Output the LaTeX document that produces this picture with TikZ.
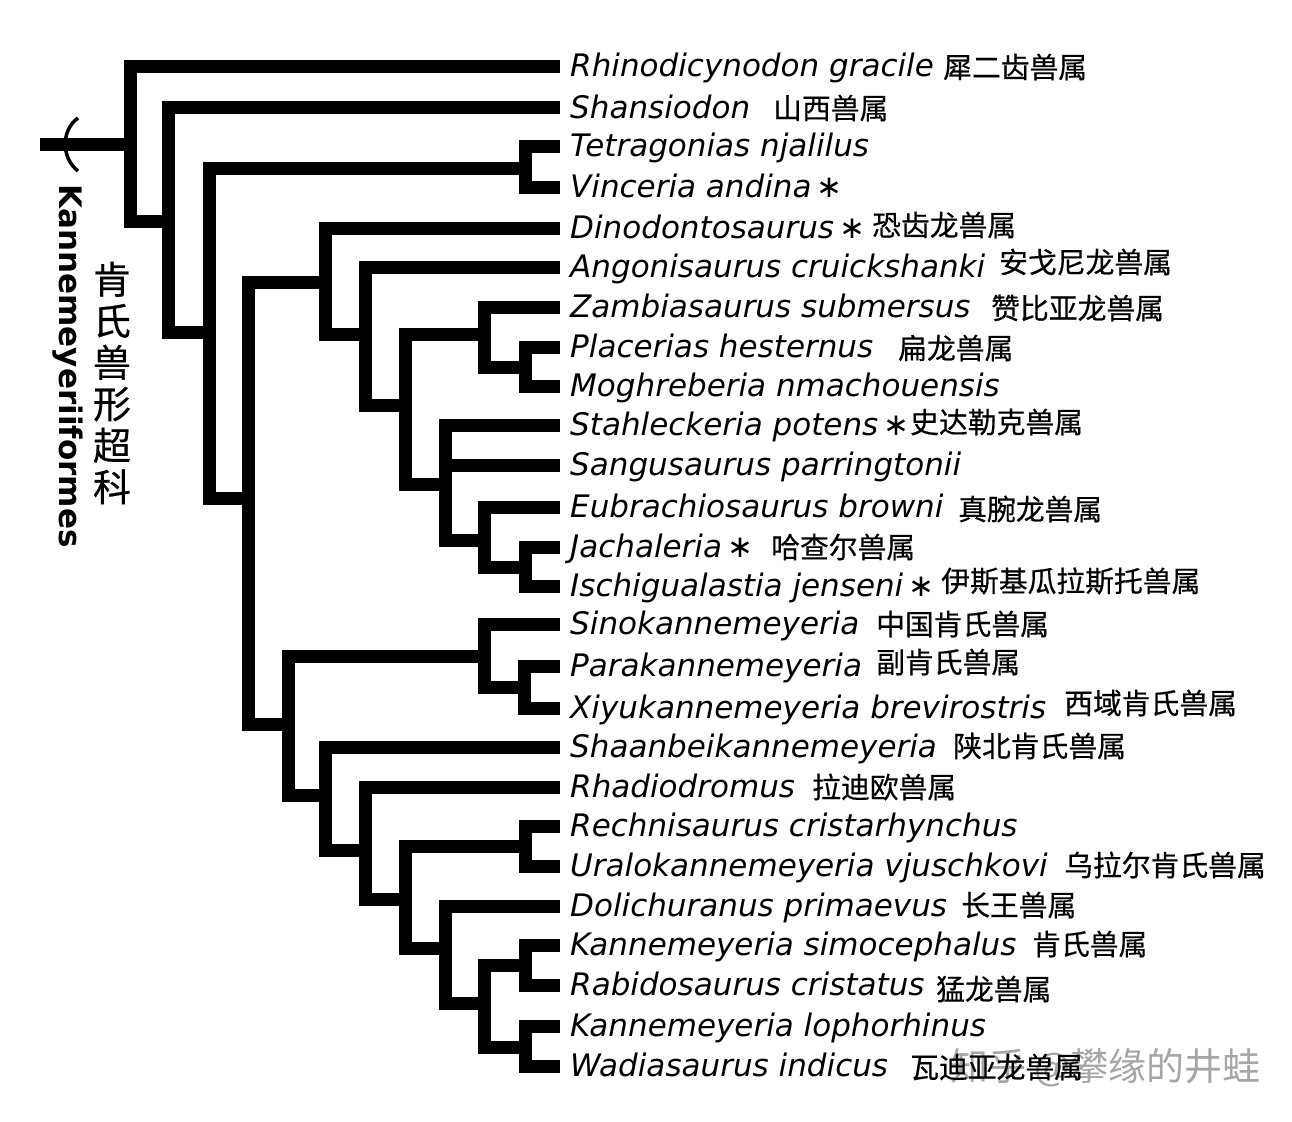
\documentclass[tikz,border=0pt]{standalone}
\usepackage{fontspec}
\setmainfont{DejaVu Sans}
\newfontfamily\cjk[FakeBold=0.5]{Noto Sans CJK SC}
\newfontfamily\cjkplain{Noto Sans CJK SC}
\usepackage{tikz}
\newcommand\astk{{\upshape\,∗}}
\tikzset{
  branch/.style={black, line width=13pt},
  taxon/.style={anchor=west, inner xsep=10pt, inner ysep=0pt, text height=24pt, text depth=4pt, font=\fontsize{31}{33}\selectfont\itshape},
  cnname/.style={anchor=west, inner sep=0pt, font=\fontsize{28.8}{30}\selectfont\cjk}
}

\begin{document}
\begin{tikzpicture}[x=1pt, y=-1pt]
	\useasboundingbox (0,0) rectangle (1292,1121);
	% taxa
	\node[taxon] (rhino) at (560, 67) {Rhinodicynodon gracile};
	\node[taxon] (shansi) at (560, 108) {Shansiodon};
	\node[taxon] (tetra) at (560, 146) {Tetragonias njalilus};
	\node[taxon] (vince) at (560, 187) {Vinceria andina\astk};
	\node[taxon] (dino) at (560, 228) {Dinodontosaurus\astk};
	\node[taxon] (ango) at (560, 267) {Angonisaurus cruickshanki};
	\node[taxon] (zamb) at (560, 307) {Zambiasaurus submersus};
	\node[taxon] (plac) at (560, 347) {Placerias hesternus};
	\node[taxon] (mogh) at (560, 386) {Moghreberia nmachouensis};
	\node[taxon] (stah) at (560, 425) {Stahleckeria potens\astk};
	\node[taxon] (sang) at (560, 465) {Sangusaurus parringtonii};
	\node[taxon] (eubr) at (560, 507) {Eubrachiosaurus browni};
	\node[taxon] (jach) at (560, 547) {Jachaleria\astk};
	\node[taxon] (isch) at (560, 586) {Ischigualastia jenseni\astk};
	\node[taxon] (sino) at (560, 624) {Sinokannemeyeria};
	\node[taxon] (para) at (560, 666) {Parakannemeyeria};
	\node[taxon] (xiyu) at (560, 708) {Xiyukannemeyeria brevirostris};
	\node[taxon] (shaan) at (560, 747) {Shaanbeikannemeyeria};
	\node[taxon] (rhad) at (560, 787) {Rhadiodromus};
	\node[taxon] (rech) at (560, 826) {Rechnisaurus cristarhynchus};
	\node[taxon] (ural) at (560, 866) {Uralokannemeyeria vjuschkovi};
	\node[taxon] (doli) at (560, 906) {Dolichuranus primaevus};
	\node[taxon] (ksim) at (560, 945) {Kannemeyeria simocephalus};
	\node[taxon] (rabi) at (560, 985) {Rabidosaurus cristatus};
	\node[taxon] (klop) at (560, 1026) {Kannemeyeria lophorhinus};
	\node[taxon] (wadi) at (560, 1066) {Wadiasaurus indicus};
	% chinese names
	\node[anchor=west, inner sep=0pt, text=black!35, font=\fontsize{38}{40}\selectfont\cjkplain] (mark) at (950, 1068) {知乎 @攀缘的井蛙};
	\node[cnname] (rhinocn) at (943, 67) {犀二齿兽属};
	\node[cnname] (shansicn) at (773, 108) {山西兽属};
	\node[cnname] (dinocn) at (872, 225) {恐齿龙兽属};
	\node[cnname] (angocn) at (999, 262) {安戈尼龙兽属};
	\node[cnname] (zambcn) at (991, 308) {赞比亚龙兽属};
	\node[cnname] (placcn) at (898, 348) {扁龙兽属};
	\node[cnname] (stahcn) at (910, 422) {史达勒克兽属};
	\node[cnname] (eubrcn) at (958, 509) {真腕龙兽属};
	\node[cnname] (jachcn) at (771, 547) {哈查尔兽属};
	\node[cnname] (ischcn) at (941, 581) {伊斯基瓜拉斯托兽属};
	\node[cnname] (sinocn) at (876, 624) {中国肯氏兽属};
	\node[cnname] (paracn) at (876, 662) {副肯氏兽属};
	\node[cnname] (xiyucn) at (1064, 703) {西域肯氏兽属};
	\node[cnname] (shaancn) at (953, 746) {陕北肯氏兽属};
	\node[cnname] (rhadcn) at (812, 787) {拉迪欧兽属};
	\node[cnname] (uralcn) at (1064, 865) {乌拉尔肯氏兽属};
	\node[cnname] (dolicn) at (961, 905) {长王兽属};
	\node[cnname] (ksimcn) at (1032, 944) {肯氏兽属};
	\node[cnname] (rabicn) at (936, 989) {猛龙兽属};
	\node[cnname] (wadicn) at (910, 1067) {瓦迪亚龙兽属};
	% group names
	\node[rotate=-90, inner sep=0pt, font=\fontsize{31}{33}\selectfont\bfseries] (kann) at (68, 366) {Kannemeyeriiformes};
	\node[inner sep=0pt, align=center, font=\fontsize{38}{41.5}\selectfont\cjk] (kanncn) at (112, 383) {肯\\氏\\兽\\形\\超\\科};
	% forks
	\coordinate (root) at (40, 144);
	\coordinate (fa) at (130, 144);
	\coordinate (fb) at (168, 221);
	\coordinate (fc) at (209, 332);
	\coordinate (fd) at (525, 168);
	\coordinate (fe) at (248, 498);
	\coordinate (ff) at (325, 282);
	\coordinate (fg) at (365, 334);
	\coordinate (fh) at (405, 405);
	\coordinate (fi) at (484, 334);
	\coordinate (fj) at (525, 367);
	\coordinate (fk) at (445, 484);
	\coordinate (fl) at (484, 540);
	\coordinate (fm) at (525, 567);
	\coordinate (fn) at (288, 724);
	\coordinate (fo) at (484, 656);
	\coordinate (fp) at (524, 687);
	\coordinate (fq) at (325, 795);
	\coordinate (fr) at (365, 850);
	\coordinate (fs) at (405, 899);
	\coordinate (ft) at (525, 846);
	\coordinate (fu) at (445, 948);
	\coordinate (fv) at (484, 1003);
	\coordinate (fw) at (525, 965);
	\coordinate (fx) at (525, 1047);
	% branches
	\draw[branch] (root) -- (fa);
	\draw[branch] (rhino.west) -| (fa) |- (fb);
	\draw[branch] (shansi.west) -| (fb) |- (fc);
	\draw[branch] (fd) -| (fc) |- (fe);
	\draw[branch] (tetra.west) -| (fd) |- (vince.west);
	\draw[branch] (ff) -| (fe) |- (fn);
	\draw[branch] (dino.west) -| (ff) |- (fg);
	\draw[branch] (ango.west) -| (fg) |- (fh);
	\draw[branch] (fi) -| (fh) |- (fk);
	\draw[branch] (zamb.west) -| (fi) |- (fj);
	\draw[branch] (plac.west) -| (fj) |- (mogh.west);
	\draw[branch] (stah.west) -| (fk) |- (fl);
	\draw[branch] (sang.west) -| (fk);
	\draw[branch] (eubr.west) -| (fl) |- (fm);
	\draw[branch] (jach.west) -| (fm) |- (isch.west);
	\draw[branch] (fo) -| (fn) |- (fq);
	\draw[branch] (sino.west) -| (fo) |- (fp);
	\draw[branch] (para.west) -| (fp) |- (xiyu.west);
	\draw[branch] (shaan.west) -| (fq) |- (fr);
	\draw[branch] (rhad.west) -| (fr) |- (fs);
	\draw[branch] (ft) -| (fs) |- (fu);
	\draw[branch] (rech.west) -| (ft) |- (ural.west);
	\draw[branch] (doli.west) -| (fu) |- (fv);
	\draw[branch] (fw) -| (fv) |- (fx);
	\draw[branch] (ksim.west) -| (fw) |- (rabi.west);
	\draw[branch] (klop.west) -| (fx) |- (wadi.west);
	% tick on the stem
	\draw[black, line width=3.5pt] (78, 118) .. controls (61, 130) and (61, 158) .. (78, 171);
\end{tikzpicture}
\end{document}
